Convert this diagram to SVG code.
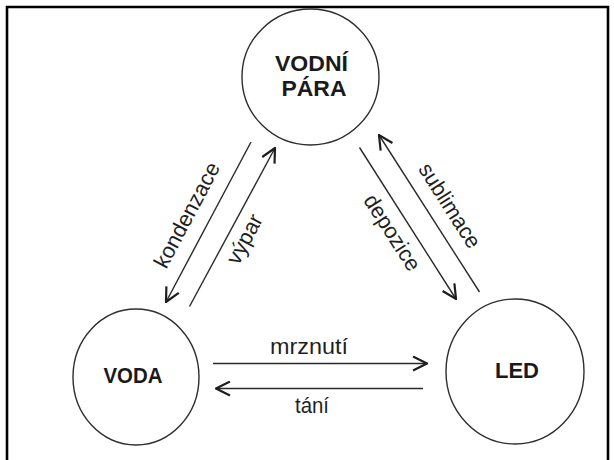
<svg xmlns="http://www.w3.org/2000/svg" width="614" height="460" viewBox="0 0 614 460">
<style>
.node{fill:#fff;stroke:#2e2e2e;stroke-width:1.4}
.lbl{font-family:"Liberation Sans",Arial,sans-serif;font-weight:bold;font-size:22px;fill:#1a1a1a;text-anchor:middle}
.edge{stroke:#2a2a2a;stroke-width:1.4;fill:none}
.etxt{font-family:"Liberation Sans",Arial,sans-serif;font-size:22px;fill:#1f1f1f;text-anchor:middle}
</style>
<defs>
<marker id="arr" viewBox="0 0 16 16" refX="15" refY="8" markerWidth="16" markerHeight="16" markerUnits="userSpaceOnUse" orient="auto">
<path d="M1,1 L15,8 L1,15" fill="none" stroke="#1e1e1e" stroke-width="2.2" stroke-linejoin="miter"/>
</marker>
</defs>
<rect width="614" height="460" fill="#fff"/>
<path d="M7,460 V7 H608 V460" fill="none" stroke="#000" stroke-width="2.6"/>
<g id="connectors">
<line class="edge" x1="251" y1="142" x2="166" y2="302" marker-end="url(#arr)"/>
<line class="edge" x1="189.5" y1="306.5" x2="275" y2="148" marker-end="url(#arr)"/>
<line class="edge" x1="359.5" y1="147.5" x2="456" y2="299" marker-end="url(#arr)"/>
<line class="edge" x1="479.5" y1="292" x2="379" y2="135" marker-end="url(#arr)"/>
<line class="edge" x1="213" y1="363.5" x2="427" y2="363.5" marker-end="url(#arr)"/>
<line class="edge" x1="423" y1="388.5" x2="216" y2="388.5" marker-end="url(#arr)"/>
<text class="etxt" transform="translate(193.5,218.5) rotate(-62)" textLength="116" lengthAdjust="spacingAndGlyphs">kondenzace</text>
<text class="etxt" transform="translate(251,242.5) rotate(-62)" textLength="53" lengthAdjust="spacingAndGlyphs">výpar</text>
<text class="etxt" transform="translate(386,236.5) rotate(57.4)" textLength="86" lengthAdjust="spacingAndGlyphs">depozice</text>
<text class="etxt" transform="translate(443.5,209.5) rotate(57.5)" textLength="96" lengthAdjust="spacingAndGlyphs">sublimace</text>
<text class="etxt" x="309" y="354" textLength="78" lengthAdjust="spacingAndGlyphs">mrznutí</text>
<text class="etxt" x="312" y="413" textLength="34" lengthAdjust="spacingAndGlyphs">tání</text>
</g>
<g id="vodni-para">
<ellipse class="node" cx="310.5" cy="77" rx="68.5" ry="68"/>
<text class="lbl" x="311.5" y="71" textLength="73" lengthAdjust="spacingAndGlyphs">VODNÍ</text>
<text class="lbl" x="314" y="96" textLength="65" lengthAdjust="spacingAndGlyphs">PÁRA</text>
</g>
<g id="voda">
<ellipse class="node" cx="136" cy="377" rx="63" ry="68"/>
<text class="lbl" x="133" y="383" textLength="59" lengthAdjust="spacingAndGlyphs">VODA</text>
</g>
<g id="led">
<ellipse class="node" cx="515" cy="371.5" rx="69" ry="72.5"/>
<text class="lbl" x="517" y="378" textLength="44" lengthAdjust="spacingAndGlyphs">LED</text>
</g>
</svg>
